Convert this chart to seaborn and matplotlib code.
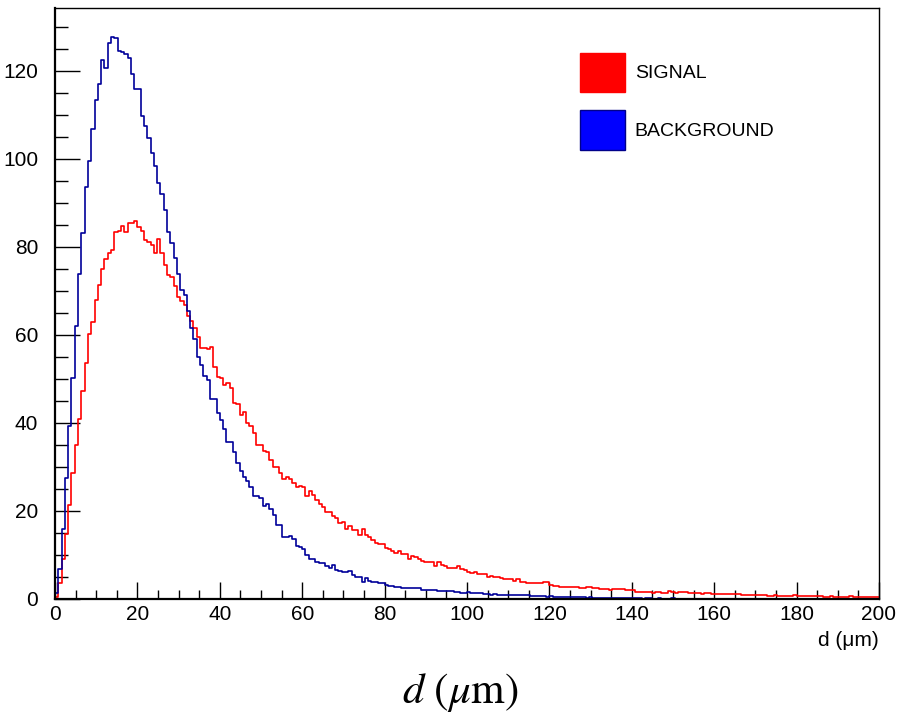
import numpy as np
import pandas as pd
import seaborn as sns
import matplotlib
matplotlib.use("Agg")
import matplotlib.pyplot as plt
from matplotlib.patches import Patch

# Histogram range and binning (250 bins of 0.8 um)
d_min, d_max, n_bins = 0.0, 200.0, 250

# Bin contents, SIGNAL sample
signal = [
    0.5, 3.7, 9.1, 14.7, 21.4, 28.6, 34.9, 40.8, 47.2, 53.7,
    60.3, 62.9, 68.0, 71.4, 74.9, 77.3, 78.6, 79.4, 83.4, 83.6,
    84.7, 83.4, 85.5, 85.4, 85.8, 84.5, 83.6, 81.5, 81.1, 80.4,
    78.6, 81.7, 78.6, 76.0, 73.6, 73.1, 71.1, 68.6, 67.8, 66.7,
    64.2, 63.1, 61.6, 59.5, 57.1, 57.0, 56.8, 57.2, 52.8, 50.4,
    50.2, 48.6, 49.0, 47.9, 44.6, 44.3, 41.8, 42.6, 39.9, 39.2,
    37.8, 35.0, 35.0, 33.7, 33.5, 31.6, 30.1, 30.1, 28.7, 27.2,
    27.8, 27.2, 26.3, 25.4, 25.6, 25.4, 23.4, 24.6, 23.6, 22.6,
    21.7, 20.8, 19.8, 19.8, 18.9, 18.3, 17.2, 17.4, 16.0, 16.6,
    15.7, 15.7, 14.5, 16.0, 14.5, 14.2, 13.4, 12.8, 12.5, 12.5,
    11.5, 11.3, 11.0, 10.4, 10.8, 10.2, 10.2, 9.0, 9.7, 9.5,
    9.2, 8.7, 8.3, 8.3, 8.5, 7.6, 8.4, 7.7, 7.4, 7.1,
    7.0, 7.1, 7.5, 6.8, 6.6, 6.2, 6.0, 6.2, 5.7, 5.7,
    5.7, 5.0, 5.2, 4.9, 4.9, 4.8, 4.6, 4.6, 4.5, 4.2,
    4.5, 3.9, 3.9, 3.7, 3.6, 3.7, 3.6, 3.7, 3.9, 3.9,
    3.2, 3.0, 2.9, 2.8, 2.8, 2.7, 2.8, 2.7, 2.7, 2.4,
    2.6, 2.7, 2.7, 2.5, 2.4, 2.3, 2.2, 2.2, 2.0, 2.2,
    2.35, 2.35, 2.2, 2.1, 2.1, 1.95, 1.55, 1.6, 1.6, 1.6,
    1.6, 1.45, 1.5, 1.6, 1.45, 1.45, 1.9, 1.6, 1.45, 1.6,
    1.7, 1.6, 1.3, 1.45, 1.45, 1.3, 1.15, 1.3, 1.3, 1.15,
    1.15, 1.15, 1.15, 1.05, 1.05, 1.05, 1.05, 1.05, 0.9, 0.9,
    0.85, 0.85, 0.9, 0.85, 0.8, 0.85, 0.75, 0.75, 0.8, 0.75,
    0.75, 0.7, 0.75, 0.75, 0.8, 0.75, 0.7, 0.75, 0.75, 0.75,
    0.7, 0.7, 0.7, 0.55, 0.55, 0.6, 0.55, 0.55, 0.5, 0.55,
    0.55, 0.6, 0.55, 0.55, 0.5, 0.55, 0.4, 0.45, 0.4, 0.4,
]

# Bin contents, BACKGROUND sample
background = [
    1.3, 6.9, 15.8, 27.5, 39.3, 50.2, 62.0, 73.9, 83.2, 93.6,
    99.5, 106.9, 113.5, 117.1, 122.5, 120.7, 126.4, 127.7, 127.5, 124.5,
    124.3, 123.9, 123.0, 119.2, 115.8, 115.8, 109.7, 107.4, 104.8, 101.4,
    98.5, 94.5, 92.0, 88.3, 83.4, 81.0, 77.6, 73.9, 70.3, 69.0,
    65.4, 61.6, 59.1, 55.1, 53.1, 50.6, 49.8, 45.4, 45.4, 42.2,
    40.7, 38.6, 35.6, 35.6, 33.5, 31.0, 29.0, 27.8, 26.8, 25.5,
    23.4, 23.4, 22.9, 21.2, 21.7, 20.4, 19.1, 16.8, 16.8, 14.2,
    14.2, 14.3, 13.6, 12.0, 11.8, 11.3, 10.0, 9.0, 9.0, 8.5,
    8.1, 8.1, 7.5, 7.0, 7.8, 6.5, 6.3, 6.1, 6.1, 6.3,
    5.5, 5.1, 5.1, 3.8, 4.8, 4.0, 3.8, 3.8, 3.6, 3.6,
    3.2, 3.0, 3.0, 2.8, 2.8, 2.6, 2.6, 2.4, 2.6, 2.5,
    2.6, 2.1, 2.0, 2.0, 2.0, 2.1, 1.8, 1.8, 1.9, 1.8,
    1.8, 1.7, 1.5, 1.4, 1.4, 1.5, 1.3, 1.4, 1.3, 1.3,
    1.2, 1.1, 1.0, 1.1, 1.0, 1.0, 0.9, 1.0, 0.9, 0.9,
    0.8, 0.9, 0.8, 0.8, 0.7, 0.7, 0.6, 0.6, 0.6, 0.5,
    0.6, 0.5, 0.5, 0.5, 0.5, 0.4, 0.4, 0.5, 0.4, 0.4,
    0.4, 0.3, 0.4, 0.3, 0.3, 0.3, 0.3, 0.3, 0.2, 0.3,
    0.3, 0.3, 0.2, 0.2, 0.2, 0.3, 0.2, 0.2, 0.1, 0.2,
    0.2, 0.1, 0.1, 0.2, 0.1, 0.1, 0.1, 0.2, 0.1, 0.1,
    0.1, 0.1, 0.1, 0.1, 0.0, 0.1, 0.1, 0.1, 0.0, 0.1,
    0.1, 0.0, 0.1, 0.1, 0.0, 0.1, 0.0, 0.1, 0.0, 0.0,
    0.1, 0.0, 0.0, 0.1, 0.0, 0.0, 0.1, 0.0, 0.0, 0.0,
    0.1, 0.0, 0.0, 0.0, 0.1, 0.0, 0.0, 0.0, 0.0, 0.1,
    0.0, 0.0, 0.0, 0.0, 0.0, 0.1, 0.0, 0.0, 0.0, 0.0,
    0.0, 0.0, 0.0, 0.1, 0.0, 0.0, 0.0, 0.0, 0.0, 0.0,
]

sample_names = ["SIGNAL", "BACKGROUND"]
line_colors = {"SIGNAL": "#ff0000", "BACKGROUND": "#00009a"}
legend_fill = {"SIGNAL": "#ff0000", "BACKGROUND": "#0000ff"}
legend_edge = {"SIGNAL": "#ff0000", "BACKGROUND": "#00008a"}

x_ticks = [0, 20, 40, 60, 80, 100, 120, 140, 160, 180, 200]
y_ticks = [0, 20, 40, 60, 80, 100, 120]

edges = np.linspace(d_min, d_max, n_bins + 1)
centers = 0.5 * (edges[:-1] + edges[1:])
df = pd.concat([
    pd.DataFrame({"d": centers, "counts": signal, "sample": "SIGNAL"}),
    pd.DataFrame({"d": centers, "counts": background, "sample": "BACKGROUND"}),
], ignore_index=True)

sns.set_style("white")
plt.rcParams["font.family"] = ["Liberation Sans", "DejaVu Sans"]
plt.rcParams["mathtext.fontset"] = "stix"
plt.rcParams["text.color"] = "black"
plt.rcParams["axes.labelcolor"] = "black"
plt.rcParams["xtick.color"] = "black"
plt.rcParams["ytick.color"] = "black"

fig = plt.figure(figsize=(9.0, 7.15), dpi=100)
ax = fig.add_axes([55 / 900, 1 - 599 / 715, (879 - 55) / 900, (599 - 8) / 715])

sns.histplot(
    data=df, x="d", weights="counts", hue="sample",
    hue_order=["BACKGROUND", "SIGNAL"], palette=line_colors,
    bins=edges.tolist(), element="step", fill=False, linewidth=1.2,
    legend=False, ax=ax,
)

ax.set_xlim(d_min, d_max)
ax.set_ylim(0, 134.3)
ax.set_xticks(x_ticks)
ax.set_yticks(y_ticks)
ax.set_xticks(np.arange(0, 201, 5), minor=True)
ax.set_yticks(np.arange(0, 134, 5), minor=True)

for side in ["left", "bottom", "right", "top"]:
    ax.spines[side].set_visible(True)
    ax.spines[side].set_color("black")
ax.spines["left"].set_linewidth(1.6)
ax.spines["bottom"].set_linewidth(1.6)
ax.spines["right"].set_linewidth(1.0)
ax.spines["top"].set_linewidth(1.0)

ax.tick_params(axis="both", which="both", direction="in", color="black",
               labelcolor="black", width=1.0, bottom=True, left=True,
               top=False, right=False, labelsize=15)
ax.tick_params(axis="y", which="major", length=18, pad=12)
ax.tick_params(axis="y", which="minor", length=9)
ax.tick_params(axis="x", which="major", length=12, pad=4)
ax.tick_params(axis="x", which="minor", length=6.5)

ax.set_ylabel("")
ax.set_xlabel("d (\u03bcm)", loc="right", fontsize=15, labelpad=5)

handles = [Patch(facecolor=legend_fill[n], edgecolor=legend_edge[n], linewidth=1.0)
           for n in sample_names]
ax.legend(handles, sample_names, loc="upper left",
          bbox_to_anchor=(580 / 900, 1 - 53 / 715), bbox_transform=fig.transFigure,
          frameon=False, borderpad=0, borderaxespad=0, fontsize=14,
          handlelength=2.31, handleheight=2.71, labelspacing=0.95, handletextpad=0.5)

fig.text(460 / 900, 1 - 692 / 715, r"$d\ (\mu\mathrm{m})$", ha="center", va="center",
         fontsize=31)

fig.savefig("out.png", dpi=100, facecolor="white")
